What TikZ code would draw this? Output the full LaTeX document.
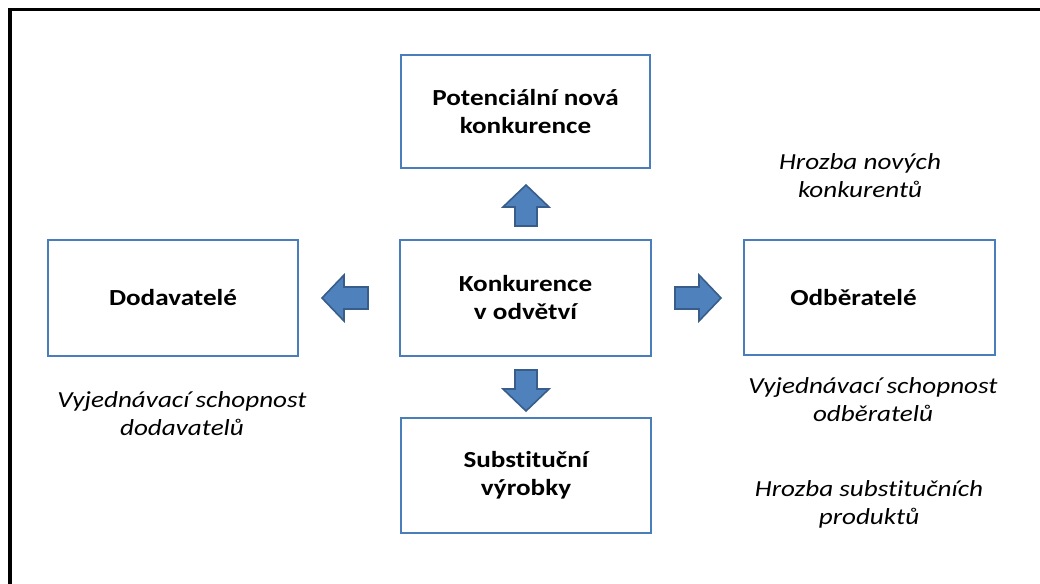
\documentclass[tikz,border=0pt]{standalone}
\usepackage{fontspec}
\setmainfont[FakeStretch=1.18,Ligatures=NoCommon]{Carlito}
\begin{document}
\begin{tikzpicture}[x=1pt,y=-1pt,
  box/.style={draw=boxblue, line width=2.6pt, fill=white, font=\bfseries\fontsize{23}{28}\selectfont, align=center, inner sep=0pt},
  lbl/.style={font=\itshape\fontsize{23}{28}\selectfont, align=center, inner sep=0pt},
  pics/barrow/.style={code={
    \draw[fill=arrfill, draw=arrdraw, line width=1.6pt, line join=miter]
      (0,-11) -- (#1-22,-11) -- (#1-22,-23) -- (#1,0) -- (#1-22,23) -- (#1-22,11) -- (0,11) -- cycle;}}]
\definecolor{boxblue}{HTML}{4A7EBB}
\definecolor{arrfill}{HTML}{4F81BD}
\definecolor{arrdraw}{HTML}{385D8A}
\useasboundingbox (0,0) rectangle (1040,583);
\draw[line width=3.5pt] (10,590) -- (10,9.5) -- (1050,9.5);

\node[box, minimum width=249pt, minimum height=113pt] (top) at (525.5,111.5) {Potenciální nová\\konkurence};
\node[box, minimum width=251pt, minimum height=116pt] (mid) at (525.5,298) {Konkurence\\v odvětví};
\node[box, minimum width=250pt, minimum height=116pt] (left) at (173,298) {Dodavatelé};
\node[box, minimum width=251pt, minimum height=115pt] (right) at (869.5,297.5) {Odběratelé\hspace{32pt}};
\node[box, minimum width=250pt, minimum height=115pt] (bot) at (526,475.5) {Substituční\\výrobky};

\pic[rotate=90] at (526,226) {barrow=41};
\pic[rotate=-90] at (526,370) {barrow=41};
\pic[rotate=180] at (368,298) {barrow=46};
\pic at (675,298) {barrow=46};

\node[lbl] (l1) at (860,176) {Hrozba nových\\konkurentů};
\node[lbl] (l2) at (873,400) {Vyjednávací schopnost\\odběratelů};
\node[lbl] (l3) at (869,504) {Hrozba substitučních\\produktů};
\node[lbl] (l4) at (182,414) {Vyjednávací schopnost\\dodavatelů};
\end{tikzpicture}
\end{document}
